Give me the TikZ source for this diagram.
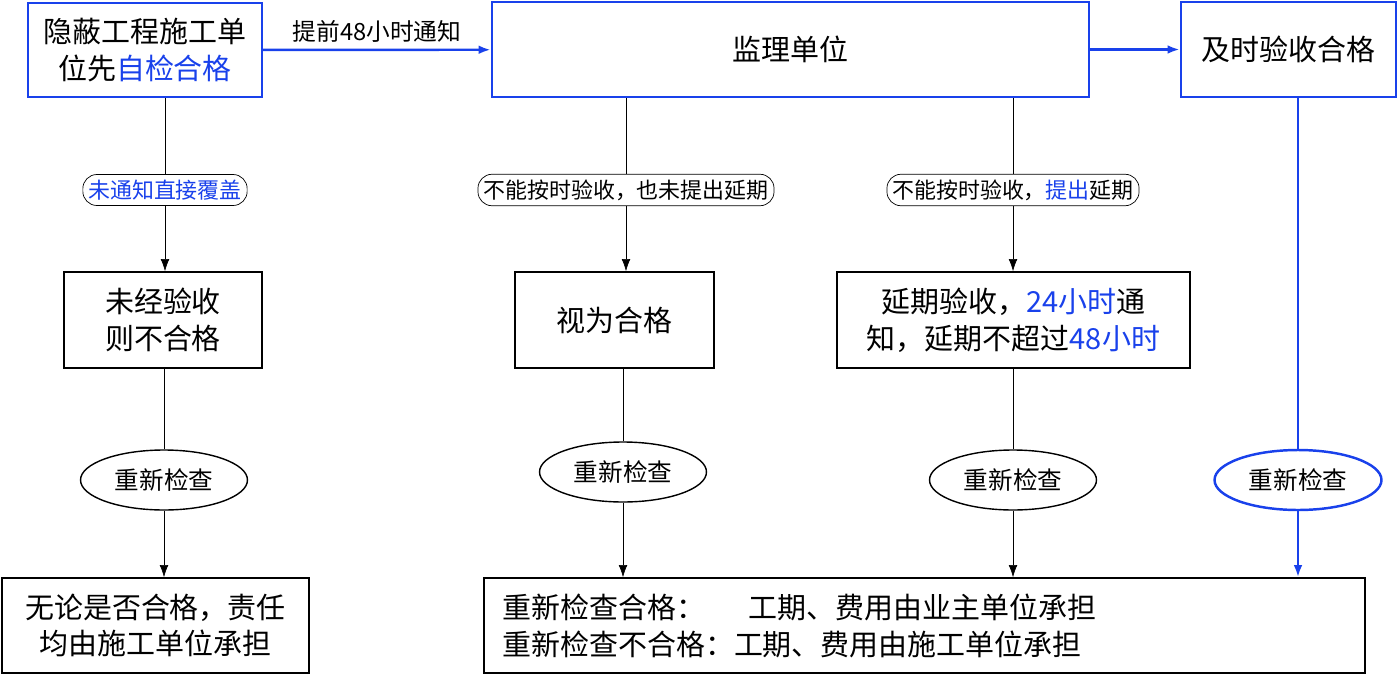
\documentclass[tikz,border=0pt]{standalone}
\usepackage{fontspec}
\setmainfont{Noto Sans CJK SC}
\usetikzlibrary{arrows.meta,shapes.geometric}
\definecolor{myblue}{RGB}{25,65,235}
\tikzset{
  box/.style = {draw, thick, align=center, inner sep=2pt, font=\fontsize{16.5}{21}\selectfont},
  bbox/.style = {box, draw=myblue, line width=1.4pt},
  tag/.style = {draw, rounded corners=8pt, minimum height=0.62cm, inner sep=3pt, font=\fontsize{12.5}{15}\selectfont},
  oval/.style = {draw, thick, ellipse, minimum width=3.34cm, minimum height=1.2cm, font=\fontsize{14}{17}\selectfont},
  link/.style = {-{Latex[length=7pt,width=5pt]}},
  blink/.style = {link, myblue, line width=1.4pt},
}
\newcommand{\bl}[1]{\textcolor{myblue}{#1}}
\begin{document}
\begin{tikzpicture}[x=0.02cm, y=-0.02cm]
  \useasboundingbox (0,0) rectangle (1399,676);
  % top row
  \node[bbox, minimum width=4.68cm, minimum height=1.88cm] (check) at (145,50) {隐蔽工程施工单\\位先\bl{自检合格}};
  \node[bbox, minimum width=11.94cm, minimum height=1.9cm] (super) at (790.5,49.5) {监理单位};
  \node[bbox, minimum width=4.3cm, minimum height=1.9cm] (ok) at (1288.5,49.5) {及时验收合格};
  \draw[blink] (check) -- node[above, black, font=\fontsize{13.5}{16}\selectfont] {提前48小时通知} (super);
  \draw[blink] (super) -- (ok);
  % labels
  \node[tag] (nonote) at (165,190) {\bl{未通知直接覆盖}};
  \node[tag] (nodelay) at (626,190) {不能按时验收，也未提出延期};
  \node[tag] (delay) at (1013,190) {不能按时验收，\bl{提出}延期};
  % middle row
  \node[box, minimum width=3.96cm, minimum height=1.92cm] (fail) at (163,320) {未经验收\\则不合格};
  \node[box, minimum width=3.98cm, minimum height=1.92cm] (pass) at (614.5,320) {视为合格};
  \node[box, minimum width=7.06cm, minimum height=1.92cm] (later) at (1013.5,320) {延期验收，\bl{24小时}通\\知，延期不超过\bl{48小时}};
  % re-checks
  \node[oval] (re1) at (164,480) {重新检查};
  \node[oval] (re2) at (623,472) {重新检查};
  \node[oval] (re3) at (1013,480) {重新检查};
  \node[oval, draw=myblue, line width=1.4pt] (re4) at (1298,480) {重新检查};
  % bottom row
  \node[box, minimum width=6.14cm, minimum height=1.9cm] (duty) at (155.5,625.5) {无论是否合格，责任\\均由施工单位承担};
  \node[box, minimum width=17.62cm, minimum height=1.9cm, align=left, text width=16.9cm] (cost) at (924.5,625.5)
    {\makebox[8.5em][l]{重新检查合格：}工期、费用由业主单位承担\\重新检查不合格：工期、费用由施工单位承担};
  % connectors
  \draw (check.south -| nonote) -- (nonote);
  \draw[link] (nonote) -- (nonote |- fail.north);
  \draw (fail.south -| re1) -- (re1);
  \draw[link] (re1) -- (re1 |- duty.north);
  \draw (super.south -| nodelay) -- (nodelay);
  \draw[link] (nodelay) -- (nodelay |- pass.north);
  \draw (pass.south -| re2) -- (re2);
  \draw[link] (re2) -- (re2 |- cost.north);
  \draw (super.south -| delay) -- (delay);
  \draw[link] (delay) -- (delay |- later.north);
  \draw (later.south -| re3) -- (re3);
  \draw[link] (re3) -- (re3 |- cost.north);
  \draw[myblue, line width=1.4pt] (ok.south -| re4) -- (re4);
  \draw[blink] (re4) -- (re4 |- cost.north);
\end{tikzpicture}
\end{document}
